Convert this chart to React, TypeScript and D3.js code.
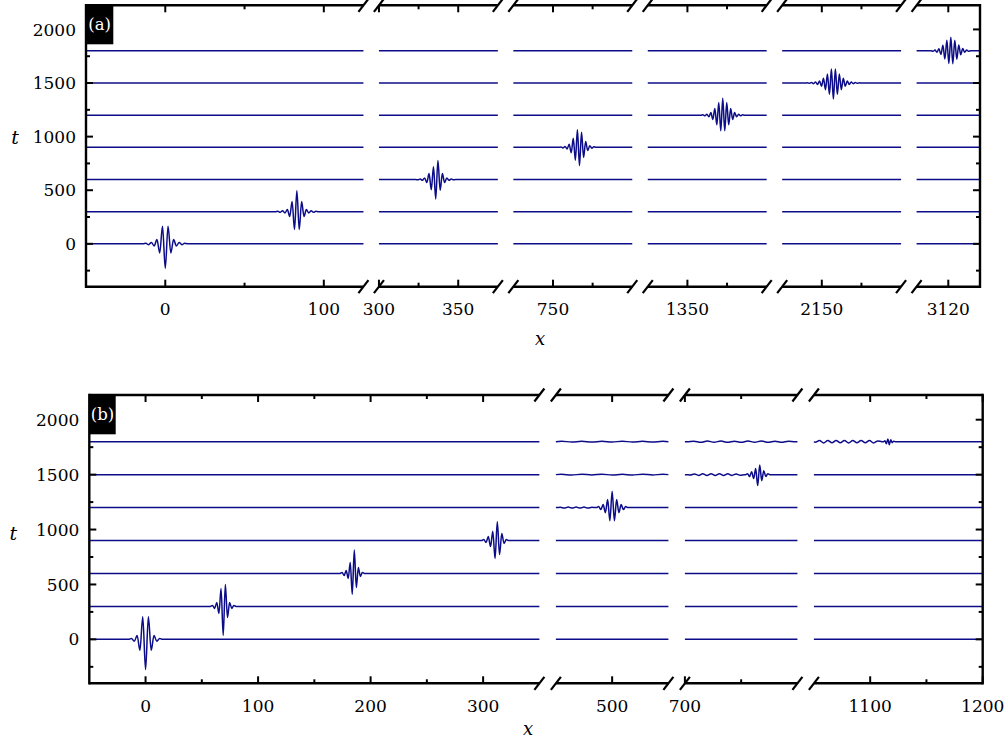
import * as d3 from "d3";

// rows: wave profiles are drawn at these times
const rowTimes = [0, 300, 600, 900, 1200, 1500, 1800];
const yMajor = [0, 500, 1000, 1500, 2000];
const yMinor = [-250, 250, 750, 1250, 1750];
const tDomain: [number, number] = [-400, 2225];

// panel (a) broken x axis
const segDomainsA = [[-50, 125], [300, 375], [725, 800], [1325, 1400], [2125, 2200], [3100, 3140]];
const majorTicksA = [[0, 100], [300, 350], [750], [1350], [2150], [3120]];
const minorTicksA = [[50], [325], [775], [1375], [2175], []];

// panel (b) broken x axis
const segDomainsB = [[-50, 350], [450, 550], [700, 800], [1050, 1200]];
const majorTicksB = [[0, 100, 200, 300], [500], [700], [1100, 1200]];
const minorTicksB = [[50, 150, 250], [], [750], [1150]];

// wave packet extrema (offsets in t units)
const ampA0 = [5, -8, 12, -20, 40, -85, 165, -230, 165, -85, 40, -20, 12, -8, 5];
const ampA1 = [4, -6, 8, -12, 20, -45, 95, -167, 195, -167, 95, -45, 20, -12, 8, -6, 4];
const ampA2 = [-3, 5, -8, 15, -28, 55, -95, 120, -182, 177, -100, 55, -28, 15, -8, 5, -3];
const ampA3 = [3, -5, 8, -15, 28, -50, 85, -120, 165, -170, 140, -95, 55, -30, 16, -8, 5];
const ampA4 = [3, -5, 8, -14, 24, -40, 62, -90, 118, -146, 158, -146, 118, -90, 62, -40, 24, -14, 8, -5, 3];
const ampA5 = [2, -3, 4, -6, 9, -13, 20, -30, 44, -62, 84, -106, 130, -149, 130, -106, 84, -62, 44, -30, 20, -13, 9, -6, 4, -3, 2];
const ampA6 = [2, -4, 7, -12, 20, -34, 52, -75, 98, -118, 127, -120, 100, -78, 55, -36, 22, -13, 7, -4, 2];

const ampB0 = [9, -18, 36, -100, 206, -274, 206, -100, 36, -18, 9];
const ampB1 = [9, -18, 36, -64, 164, -264, 200, -100, 36, -18, 9];
const ampB2 = [9, -18, 27, -45, 100, -189, 213, -128, 55, -27, 9];
const ampB3 = [9, -18, 36, -55, 85, -164, 170, -128, 64, -27, 9];
const ampB4 = [9, -18, 27, -46, 73, -119, 149, -119, 73, -46, 27, -18, 9];
const ampB5 = [9, -18, 27, -36, 55, -100, 88, -55, 36, -18, 9];
const ampB6 = [9, -18, 25, -27, 18, -9, 5];
// small ripples on the baselines of (b)
const ripB1200 = [3, -5, 5, -5, 5, -5, 5, -5, 3];
const ripB1500s2 = [3, -4, 4, -3, 4, -4, 3, -4, 4, -3, 3];
const ripB1800s2 = [4, -3, 3, -4, 3, -3, 4, -3, 3, -4, 3];
const ripB1500s3 = [-4, 6, -7, 7, -7, 7, -7, 7, -7, 7, -7, 6, -5];
const ripB1800s3 = [5, -6, 6, -5, 6, -6, 5, -6, 6, -5, 6, -6, 5, -6, 5];
const ripB1800s4 = [-6, 10, -11, 10, -10, 11, -10, 10, -11, 10, -10, 11, -10, 10, -11, 7];

type Feature = { t: number; xc: number; step: number; amps: number[] };

const featuresA: Feature[] = [
  { t: 0, xc: 0, step: 1.75, amps: ampA0 },
  { t: 300, xc: 83, step: 1.5, amps: ampA1 },
  { t: 600, xc: 335.8, step: 1.4, amps: ampA2 },
  { t: 900, xc: 765.4, step: 1.3, amps: ampA3 },
  { t: 1200, xc: 1372.3, step: 1.25, amps: ampA4 },
  { t: 1500, xc: 2157.3, step: 1.25, amps: ampA5 },
  { t: 1800, xc: 3121.6, step: 1.25, amps: ampA6 },
];

const featuresB: Feature[] = [
  { t: 0, xc: 0, step: 2.5, amps: ampB0 },
  { t: 300, xc: 69, step: 1.9, amps: ampB1 },
  { t: 600, xc: 183.7, step: 1.8, amps: ampB2 },
  { t: 900, xc: 310.6, step: 2.0, amps: ampB3 },
  { t: 1200, xc: 500, step: 2.0, amps: ampB4 },
  { t: 1500, xc: 764.7, step: 1.8, amps: ampB5 },
  { t: 1800, xc: 1117, step: 1.3, amps: ampB6 },
  { t: 1200, xc: 468, step: 3.5, amps: ripB1200 },
  { t: 1500, xc: 500, step: 9, amps: ripB1500s2 },
  { t: 1800, xc: 500, step: 9, amps: ripB1800s2 },
  { t: 1500, xc: 727, step: 3.7, amps: ripB1500s3 },
  { t: 1800, xc: 750, step: 6, amps: ripB1800s3 },
  { t: 1800, xc: 1079, step: 3.7, amps: ripB1800s4 },
];

const FONT = "'DejaVu Serif', serif";
const LINE = "#0c0c88";

function rowPoints(t: number, dom: number[], feats: Feature[]): [number, number][] {
  const pts: [number, number][] = [];
  feats
    .filter((f) => f.t === t && f.xc >= dom[0] && f.xc <= dom[1])
    .forEach((f) => {
      const n = f.amps.length;
      const mid = (n - 1) / 2;
      pts.push([f.xc + (-1 - mid) * f.step, t]);
      f.amps.forEach((a, i) => pts.push([f.xc + (i - mid) * f.step, t + a]));
      pts.push([f.xc + (n - mid) * f.step, t]);
    });
  const inner = pts.filter((p) => p[0] > dom[0] && p[0] < dom[1]).sort((a, b) => a[0] - b[0]);
  return [[dom[0], t], ...inner, [dom[1], t]];
}

type PanelProps = {
  left: number;
  right: number;
  top: number;
  bottom: number;
  gap: number;
  label: string;
  segDomains: number[][];
  majorTicks: number[][];
  minorTicks: number[][];
  features: Feature[];
  tLabel: [number, number];
  xLabel: [number, number];
  boxW: number;
  boxH: number;
  boxBase: number;
};

const Panel = (p: PanelProps) => {
  const y = d3.scaleLinear(tDomain, [p.bottom, p.top]);
  const units = d3.sum(p.segDomains, (d) => d[1] - d[0]);
  const k = (p.right - p.left - p.gap * (p.segDomains.length - 1)) / units;
  let cur = p.left;
  const scales = p.segDomains.map((d) => {
    const r0 = cur;
    const r1 = cur + (d[1] - d[0]) * k;
    cur = r1 + p.gap;
    return d3.scaleLinear(d, [r0, r1]);
  });

  const sw = 2.4;
  const slash = (x: number, yy: number, key: string) => (
    <line key={key} x1={x - 5} y1={yy + 6.5} x2={x + 5} y2={yy - 6.5} stroke="#000" strokeWidth={2.2} />
  );

  return (
    <g>
      {/* wave rows */}
      {scales.map((xs, si) => {
        const line = d3
          .line<[number, number]>()
          .x((d) => xs(d[0]))
          .y((d) => y(d[1]))
          .curve(d3.curveMonotoneX);
        return rowTimes.map((t) => (
          <path
            key={`r${si}-${t}`}
            d={line(rowPoints(t, p.segDomains[si], p.features)) || ""}
            fill="none"
            stroke={LINE}
            strokeWidth={1.5}
          />
        ));
      })}

      {/* spines */}
      <line x1={p.left} x2={p.left} y1={p.top - sw / 2} y2={p.bottom + sw / 2} stroke="#000" strokeWidth={sw} />
      <line x1={p.right} x2={p.right} y1={p.top - sw / 2} y2={p.bottom + sw / 2} stroke="#000" strokeWidth={sw} />
      {scales.map((xs, si) => {
        const [r0, r1] = xs.range();
        return (
          <g key={`sp${si}`}>
            <line x1={r0} x2={r1} y1={p.top} y2={p.top} stroke="#000" strokeWidth={sw} />
            <line x1={r0} x2={r1} y1={p.bottom} y2={p.bottom} stroke="#000" strokeWidth={sw} />
            {si > 0 && [slash(r0, p.top, "a"), slash(r0, p.bottom, "b")]}
            {si < scales.length - 1 && [slash(r1, p.top, "c"), slash(r1, p.bottom, "d")]}
            {p.majorTicks[si].map((v) => (
              <g key={`M${v}`}>
                <line x1={xs(v)} x2={xs(v)} y1={p.top} y2={p.top + 7} stroke="#000" strokeWidth={2} />
                <line x1={xs(v)} x2={xs(v)} y1={p.bottom} y2={p.bottom - 7} stroke="#000" strokeWidth={2} />
                <text x={xs(v)} y={p.bottom + 28.5} textAnchor="middle" fontFamily={FONT} fontSize={17} fill="#000">
                  {v}
                </text>
              </g>
            ))}
            {p.minorTicks[si].map((v) => (
              <g key={`m${v}`}>
                <line x1={xs(v)} x2={xs(v)} y1={p.top} y2={p.top + 4} stroke="#000" strokeWidth={2} />
                <line x1={xs(v)} x2={xs(v)} y1={p.bottom} y2={p.bottom - 4} stroke="#000" strokeWidth={2} />
              </g>
            ))}
          </g>
        );
      })}

      {/* y ticks */}
      {yMajor.map((v) => (
        <g key={`ym${v}`}>
          <line x1={p.left} x2={p.left + 7} y1={y(v)} y2={y(v)} stroke="#000" strokeWidth={2} />
          <line x1={p.right} x2={p.right - 7} y1={y(v)} y2={y(v)} stroke="#000" strokeWidth={2} />
          <text x={p.left - 10} y={y(v)} dy="0.36em" textAnchor="end" fontFamily={FONT} fontSize={17} fill="#000">
            {v}
          </text>
        </g>
      ))}
      {yMinor.map((v) => (
        <g key={`yn${v}`}>
          <line x1={p.left} x2={p.left + 4} y1={y(v)} y2={y(v)} stroke="#000" strokeWidth={2} />
          <line x1={p.right} x2={p.right - 4} y1={y(v)} y2={y(v)} stroke="#000" strokeWidth={2} />
        </g>
      ))}

      {/* panel tag */}
      <rect x={p.left} y={p.top} width={p.boxW} height={p.boxH} fill="#000" />
      <text x={p.left + p.boxW / 2} y={p.boxBase} textAnchor="middle" fontFamily={FONT} fontSize={16.5} fill="#fff">
        {p.label}
      </text>

      {/* axis titles */}
      <text x={p.tLabel[0]} y={p.tLabel[1]} textAnchor="middle" fontFamily={FONT} fontStyle="italic" fontSize={19} fill="#000">
        t
      </text>
      <text x={p.xLabel[0]} y={p.xLabel[1]} textAnchor="middle" fontFamily={FONT} fontStyle="italic" fontSize={18} fill="#000">
        x
      </text>
    </g>
  );
};

export default function App() {
  return (
    <svg
      width={1006}
      height={741}
      viewBox="0 0 1006 741"
      style={{ position: "absolute", left: 0, top: 0, background: "#fff" }}
    >
      <rect width={1006} height={741} fill="#fff" />
      <Panel
        left={86}
        right={980}
        top={5.3}
        bottom={286.7}
        gap={15.5}
        label="(a)"
        segDomains={segDomainsA}
        majorTicks={majorTicksA}
        minorTicks={minorTicksA}
        features={featuresA}
        tLabel={[15, 144]}
        xLabel={[540, 345]}
        boxW={27.3}
        boxH={39}
        boxBase={30}
      />
      <Panel
        left={89.3}
        right={982.7}
        top={395}
        bottom={683.3}
        gap={16.5}
        label="(b)"
        segDomains={segDomainsB}
        majorTicks={majorTicksB}
        minorTicks={minorTicksB}
        features={featuresB}
        tLabel={[13.3, 540]}
        xLabel={[528, 735]}
        boxW={26.4}
        boxH={39.3}
        boxBase={419.5}
      />
    </svg>
  );
}
